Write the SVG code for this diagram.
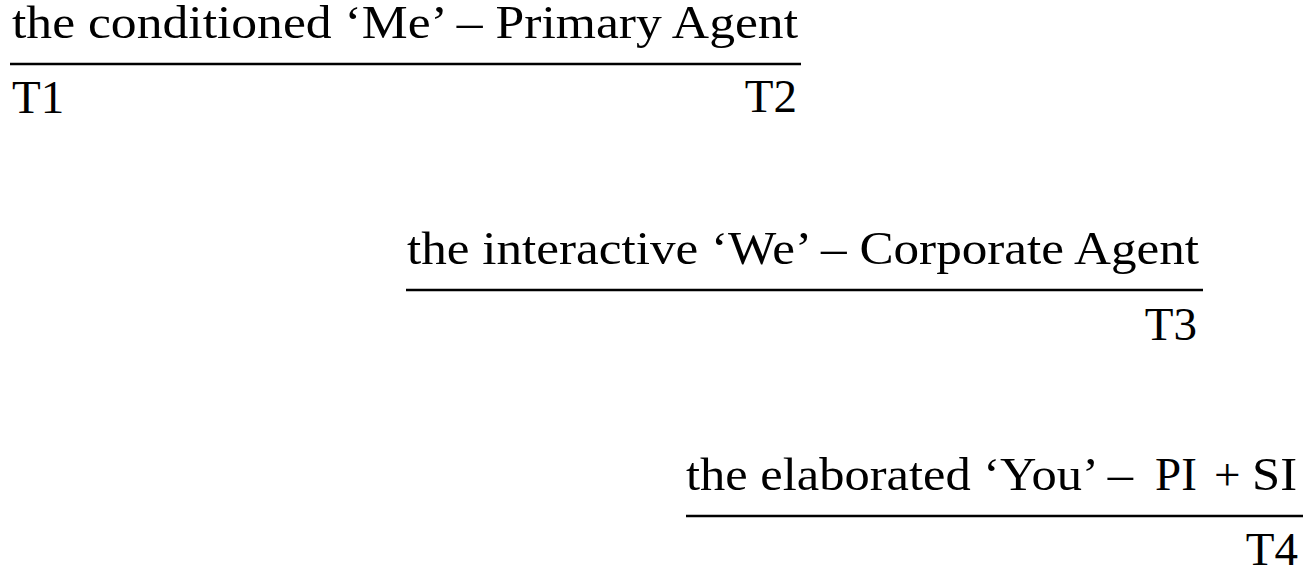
<svg xmlns="http://www.w3.org/2000/svg" width="1309" height="581" viewBox="0 0 1309 581">
<style>
  .lbl { font-family: "Liberation Serif", "Times New Roman", serif; font-size: 47px; fill: #000; }
  .end { text-anchor: end; }
  .bar { stroke: #000; stroke-width: 2.6; fill: none; }
</style>
<rect width="1309" height="581" fill="#fff"/>
<g id="connectors">
  <line class="bar" x1="10" y1="64" x2="801" y2="64"/>
  <line class="bar" x1="406" y1="290" x2="1203" y2="290"/>
  <line class="bar" x1="686" y1="516" x2="1303" y2="516"/>
</g>
<g id="node-me">
  <text class="lbl" x="12" y="38" textLength="786" lengthAdjust="spacingAndGlyphs">the conditioned ‘Me’ – Primary Agent</text>
  <text class="lbl" x="12" y="113">T1</text>
  <text class="lbl end" x="797" y="112">T2</text>
</g>
<g id="node-we">
  <text class="lbl" x="407" y="264" textLength="792" lengthAdjust="spacingAndGlyphs">the interactive ‘We’ – Corporate Agent</text>
  <text class="lbl end" x="1197" y="340">T3</text>
</g>
<g id="node-you">
  <text class="lbl" y="490"><tspan x="686" textLength="447" lengthAdjust="spacingAndGlyphs">the elaborated ‘You’ –</tspan> <tspan x="1155">PI</tspan> <tspan x="1214">+</tspan> <tspan x="1252" textLength="45" lengthAdjust="spacingAndGlyphs">SI</tspan></text>
  <text class="lbl end" x="1298" y="565">T4</text>
</g>
</svg>
